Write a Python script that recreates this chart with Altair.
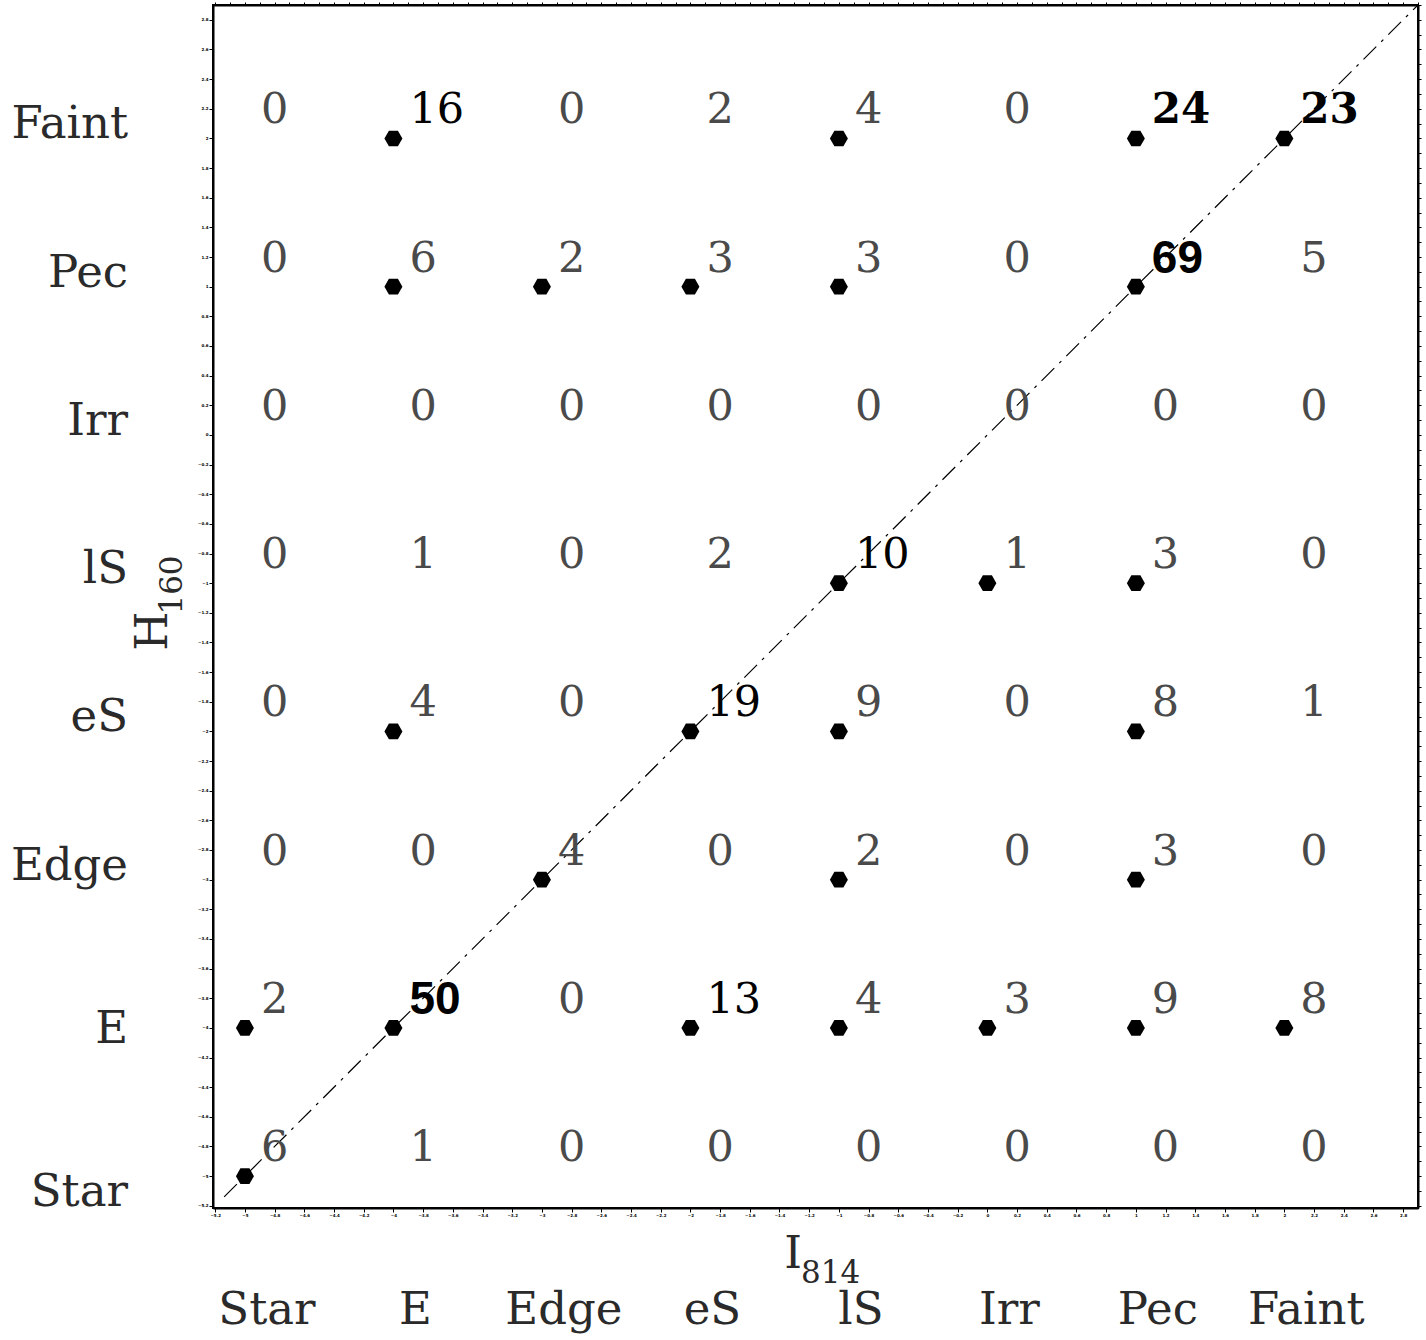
import altair as alt
import pandas as pd

# Morphological classes, in axis order (Star at the origin corner)
CLASSES = ["Star", "E", "Edge", "eS", "lS", "Irr", "Pec", "Faint"]

# Number of galaxies per (H160 class, I814 class); each list runs over the I814 classes
COUNTS_STAR = [6, 1, 0, 0, 0, 0, 0, 0]
COUNTS_E = [2, 50, 0, 13, 4, 3, 9, 8]
COUNTS_EDGE = [0, 0, 4, 0, 2, 0, 3, 0]
COUNTS_ES = [0, 4, 0, 19, 9, 0, 8, 1]
COUNTS_LS = [0, 1, 0, 2, 10, 1, 3, 0]
COUNTS_IRR = [0, 0, 0, 0, 0, 0, 0, 0]
COUNTS_PEC = [0, 6, 2, 3, 3, 0, 69, 5]
COUNTS_FAINT = [0, 16, 0, 2, 4, 0, 24, 23]

# Plotted objects, as (I814 class, H160 class)
MARKERS = [
    ("Star", "Star"),
    ("Star", "E"), ("E", "E"), ("eS", "E"), ("lS", "E"), ("Irr", "E"), ("Pec", "E"), ("Faint", "E"),
    ("Edge", "Edge"), ("lS", "Edge"), ("Pec", "Edge"),
    ("E", "eS"), ("eS", "eS"), ("lS", "eS"), ("Pec", "eS"),
    ("lS", "lS"), ("Irr", "lS"), ("Pec", "lS"),
    ("E", "Pec"), ("Edge", "Pec"), ("eS", "Pec"), ("lS", "Pec"), ("Pec", "Pec"),
    ("E", "Faint"), ("lS", "Faint"), ("Pec", "Faint"), ("Faint", "Faint"),
]

# Axis coordinate of each class and plotted range
CLASS_VALUE = {c: i - 5 for i, c in enumerate(CLASSES)}
DOMAIN = [-5.215, 2.9]
DIAGONAL = [-5.14, 2.9]
MAJOR_TICKS = [round(-5.2 + 0.2 * k, 1) for k in range(41)]
MINOR_TICKS = [round(-5.2 + 0.1 * k, 1) for k in range(82)]

ROWS = {
    "Star": COUNTS_STAR, "E": COUNTS_E, "Edge": COUNTS_EDGE, "eS": COUNTS_ES,
    "lS": COUNTS_LS, "Irr": COUNTS_IRR, "Pec": COUNTS_PEC, "Faint": COUNTS_FAINT,
}

cells = pd.DataFrame(
    [
        {"xi": CLASS_VALUE[xc], "yh": CLASS_VALUE[yc], "n": ROWS[yc][i], "label": str(ROWS[yc][i])}
        for yc in CLASSES
        for i, xc in enumerate(CLASSES)
    ]
)
markers = pd.DataFrame(
    [{"xi": CLASS_VALUE[a], "yh": CLASS_VALUE[b]} for a, b in MARKERS]
)
diag = pd.DataFrame({"v": DIAGONAL})
classes = pd.DataFrame({"name": CLASSES, "v": [CLASS_VALUE[c] for c in CLASSES]})

W, H = 1205, 1203
XS = alt.Scale(domain=DOMAIN, nice=False, zero=False)
YS = alt.Scale(domain=DOMAIN, nice=False, zero=False)

SERIF = "DejaVu Serif"
INK = "#2a2a2a"

tiny_axis = dict(
    values=MAJOR_TICKS, format="~g", labelFontSize=4, labelFont="DejaVu Sans",
    labelFontWeight="bold", labelColor="black", labelPadding=1, labelOverlap=False,
    labelFlush=False, tickSize=4, tickColor="black", tickWidth=1, domainColor="black",
    domainWidth=2, grid=False, title=None,
)
edge_axis = dict(
    values=MINOR_TICKS, labels=False, tickSize=3, tickColor="black", tickWidth=1,
    domainColor="black", domainWidth=2, grid=False, title=None,
)

HEX = "M -1 0 L -0.5 -0.866 L 0.5 -0.866 L 1 0 L 0.5 0.866 L -0.5 0.866 Z"

points = alt.Chart(markers).mark_point(
    shape=HEX, filled=True, size=324, color="black", opacity=1, strokeWidth=0
).encode(
    x=alt.X("xi:Q", scale=XS, axis=alt.Axis(orient="bottom", **tiny_axis)),
    y=alt.Y("yh:Q", scale=YS, axis=alt.Axis(orient="left", **tiny_axis)),
)

line = alt.Chart(diag).mark_line(
    color="black", strokeWidth=1.2, strokeDash=[18, 7, 3, 7]
).encode(
    x=alt.X("v:Q", scale=XS, axis=alt.Axis(orient="top", **edge_axis)),
    y=alt.Y("v:Q", scale=YS, axis=alt.Axis(orient="right", **edge_axis)),
)


def count_layer(expr, font, weight, color, size):
    return alt.Chart(cells).transform_filter(expr).mark_text(
        align="left", baseline="middle", dx=16, dy=-28,
        font=font, fontWeight=weight, color=color, fontSize=size,
    ).encode(
        x=alt.X("xi:Q", scale=XS, axis=None),
        y=alt.Y("yh:Q", scale=YS, axis=None),
        text="label:N",
    )


counts_low = count_layer("datum.n < 10", SERIF, "normal", "#4a4a4a", 43)
counts_mid = count_layer("datum.n >= 10 && datum.n < 20", SERIF, "normal", "black", 43)
counts_high = count_layer("datum.n >= 20 && datum.n < 40", SERIF, "bold", "black", 42)
counts_top = count_layer("datum.n >= 40", "Liberation Sans", "bold", "black", 46)


def row_name_layer(expr, dy):
    return alt.Chart(classes).transform_filter(expr).mark_text(
        align="right", baseline="middle", dy=dy, font=SERIF, fontSize=45, color=INK
    ).encode(
        x=alt.value(-85),
        y=alt.Y("v:Q", scale=YS, axis=None),
        text="name:N",
    )


# row names sit a little above their row, except the two lowest ones
row_names_upper = row_name_layer("datum.name != 'E' && datum.name != 'Star'", -14)
row_name_e = row_name_layer("datum.name == 'E'", 1)
row_name_star = row_name_layer("datum.name == 'Star'", 16)

col_names = alt.Chart(classes).mark_text(
    align="center", baseline="middle", dx=22, font=SERIF, fontSize=45, color=INK
).encode(
    x=alt.X("v:Q", scale=XS, axis=None),
    y=alt.value(1305),
    text="name:N",
)

# axis titles with subscripted band names
x_title = alt.Chart(pd.DataFrame({"t": ["I"]})).mark_text(
    align="right", baseline="alphabetic", font=SERIF, fontSize=45, color=INK
).encode(x=alt.value(589), y=alt.value(1263), text="t:N")
x_sub = alt.Chart(pd.DataFrame({"t": ["814"]})).mark_text(
    align="left", baseline="alphabetic", font=SERIF, fontSize=31, color=INK
).encode(x=alt.value(588), y=alt.value(1278), text="t:N")
y_title = alt.Chart(pd.DataFrame({"t": ["H"]})).mark_text(
    align="center", baseline="alphabetic", angle=270, font=SERIF, fontSize=45, color=INK
).encode(x=alt.value(-46), y=alt.value(626), text="t:N")
y_sub = alt.Chart(pd.DataFrame({"t": ["160"]})).mark_text(
    align="center", baseline="alphabetic", angle=270, font=SERIF, fontSize=31, color=INK
).encode(x=alt.value(-31), y=alt.value(580), text="t:N")

chart = alt.layer(
    points, line, counts_low, counts_mid, counts_high, counts_top,
    row_names_upper, row_name_e, row_name_star, col_names,
    x_title, x_sub, y_title, y_sub,
).resolve_axis(
    x="independent", y="independent"
).properties(
    width=W, height=H,
    padding={"left": 213, "top": 5, "right": 8, "bottom": 132},
    autosize=alt.AutoSizeParams(type="none"),
    background="white",
).configure_view(
    stroke="black", strokeWidth=2
)

chart.save("out.html", embed_options={"renderer": "svg", "actions": False})
